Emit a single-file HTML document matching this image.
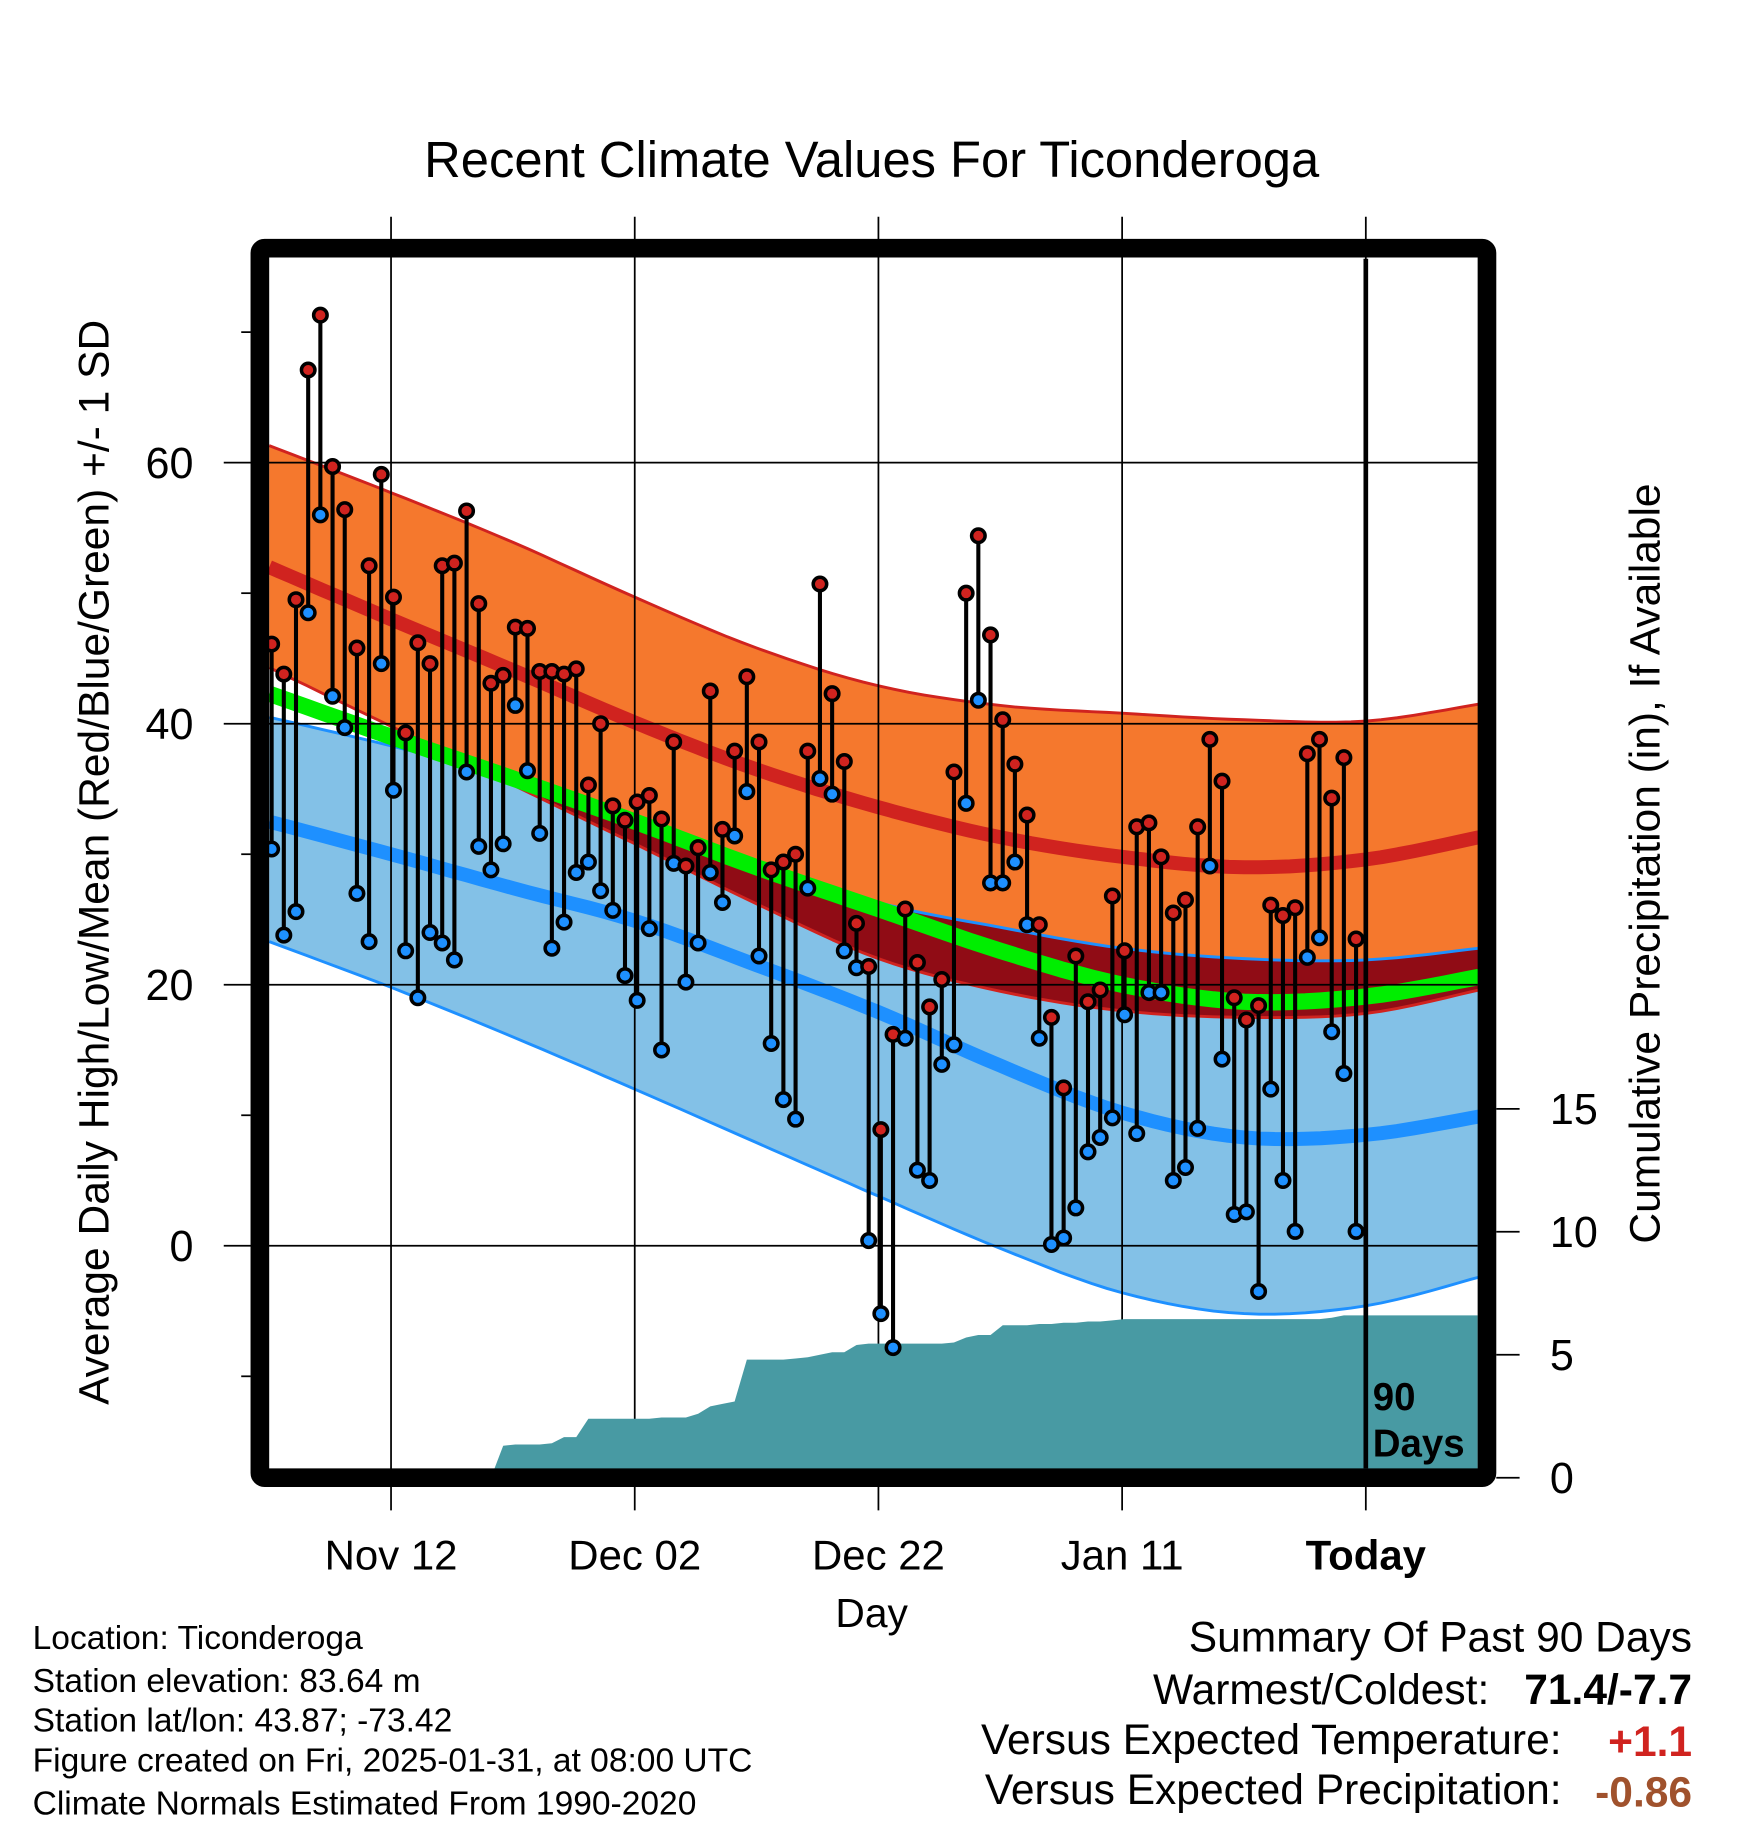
<!DOCTYPE html>
<html><head><meta charset="utf-8"><style>
html,body{margin:0;padding:0;background:#fff}
svg{display:block;font-family:"Liberation Sans",sans-serif}
</style></head><body>
<svg id="chart" width="1748" height="1828" viewBox="0 0 1500 1568.6" preserveAspectRatio="none" xmlns="http://www.w3.org/2000/svg">
<rect width="1500" height="1568.6" fill="#fff"/>
<text x="748" y="152" font-size="43.5" text-anchor="middle">Recent Climate Values For Ticonderoga</text>
<g id="bands"></g>
<g id="grid"></g>
<g id="precip"></g>
<g id="marks"></g>
<rect x="223" y="213" width="1053" height="1055" fill="none" stroke="#000" stroke-width="16" rx="4"/>
<g id="axes"></g>
<text font-size="33" font-weight="bold" x="1178" y="1210">90</text>
<text font-size="33" font-weight="bold" x="1178" y="1250">Days</text>
<text font-size="36.5" text-anchor="middle" transform="translate(93,740) rotate(-90)">Average Daily High/Low/Mean (Red/Blue/Green) +/- 1 SD</text>
<text font-size="36.5" text-anchor="middle" transform="translate(1424,741) rotate(-90)">Cumulative Precipitation (in), If Available</text>
<text font-size="35" text-anchor="middle" x="748" y="1396">Day</text>
<g font-size="28.8">
<text x="28" y="1415">Location: Ticonderoga</text>
<text x="28" y="1452">Station elevation: 83.64 m</text>
<text x="28" y="1486">Station lat/lon: 43.87; -73.42</text>
<text x="28" y="1520">Figure created on Fri, 2025-01-31, at 08:00 UTC</text>
<text x="28" y="1557">Climate Normals Estimated From 1990-2020</text>
</g>
<g font-size="36.5">
<text x="1452" y="1417" text-anchor="end">Summary Of Past 90 Days</text>
<text x="1278" y="1462" text-anchor="end">Warmest/Coldest:</text>
<text x="1452" y="1462" text-anchor="end" font-weight="bold">71.4/-7.7</text>
<text x="1340" y="1505" text-anchor="end">Versus Expected Temperature:</text>
<text x="1452" y="1507" text-anchor="end" font-weight="bold" fill="#d0231f">+1.1</text>
<text x="1340" y="1548" text-anchor="end">Versus Expected Precipitation:</text>
<text x="1452" y="1550" text-anchor="end" font-weight="bold" fill="#a0522d">-0.86</text>
</g>
</svg>
<script>
const normDays=[0,10,20,30,40,50,60,70,80,90,99.3];
const highUp=[61.3,57.7,53.9,49.7,45.8,42.9,41.4,40.8,40.3,40.2,41.5];
const highMean=[52.0,48.0,44.1,40.1,36.5,33.6,31.3,29.8,29.0,29.6,31.3];
const highLow=[44.3,39.8,35.3,30.8,26.2,22.0,19.5,18.0,17.5,17.8,19.6];
const lowUp=[40.5,38.3,35.8,32.8,29.5,26.3,24.4,22.8,22.0,21.9,22.8];
const lowMean=[32.5,30.0,27.4,24.9,21.5,17.9,13.8,10.2,8.3,8.5,9.9];
const lowLow=[23.3,19.8,16.0,12.0,7.9,3.8,-0.2,-3.6,-5.2,-4.6,-2.4];
const avgMean=[42.3,39.0,35.8,32.5,29.0,25.8,22.6,20.0,18.7,19.1,20.6];
const highs=[46.1,43.8,49.5,67.1,71.3,59.7,56.4,45.8,52.1,59.1,49.7,39.3,46.2,44.6,52.1,52.3,56.3,49.2,43.1,43.7,47.4,47.3,44.0,44.0,43.8,44.2,35.3,40.0,33.7,32.6,34.0,34.5,32.7,38.6,29.1,30.5,42.5,31.9,37.9,43.6,38.6,28.8,29.4,30.0,37.9,50.7,42.3,37.1,24.7,21.4,8.9,16.2,25.8,21.7,18.3,20.4,36.3,50.0,54.4,46.8,40.3,36.9,33.0,24.6,17.5,12.1,22.2,18.7,19.6,26.8,22.6,32.1,32.4,29.8,25.5,26.5,32.1,38.8,35.6,19.0,17.3,18.4,26.1,25.3,25.9,37.7,38.8,34.3,37.4,23.5];
const lows=[30.4,23.8,25.6,48.5,56.0,42.1,39.7,27.0,23.3,44.6,34.9,22.6,19.0,24.0,23.2,21.9,36.3,30.6,28.8,30.8,41.4,36.4,31.6,22.8,24.8,28.6,29.4,27.2,25.7,20.7,18.8,24.3,15.0,29.3,20.2,23.2,28.6,26.3,31.4,34.8,22.2,15.5,11.2,9.7,27.4,35.8,34.6,22.6,21.3,0.4,-5.2,-7.8,15.9,5.8,5.0,13.9,15.4,33.9,41.8,27.8,27.8,29.4,24.6,15.9,0.1,0.6,2.9,7.2,8.3,9.8,17.7,8.6,19.4,19.4,5.0,6.0,9.0,29.1,14.3,2.4,2.6,-3.5,12.0,5.0,1.1,22.1,23.6,16.4,13.2,1.1];
const precip=[0,0,0,0,0,0,0,0,0,0,0,0,0,0,0,0,0,0,0,1.3,1.35,1.35,1.35,1.4,1.65,1.65,2.4,2.4,2.4,2.4,2.4,2.4,2.45,2.45,2.45,2.6,2.9,3.0,3.1,4.8,4.8,4.8,4.8,4.85,4.9,5.0,5.1,5.1,5.4,5.45,5.45,5.45,5.45,5.45,5.45,5.45,5.5,5.7,5.8,5.8,6.2,6.2,6.2,6.25,6.25,6.3,6.3,6.35,6.35,6.4,6.45,6.45,6.45,6.45,6.45,6.45,6.45,6.45,6.45,6.45,6.45,6.45,6.45,6.45,6.45,6.45,6.45,6.5,6.6,6.6];
const dateTicks=[10,30,50,70,90];
const dateLabels=["Nov 12","Dec 02","Dec 22","Jan 11","Today"];
const yMajor=[0,20,40,60];
const yMinor=[-10,10,30,50,70];
const y2Ticks=[0,5,10,15];

const NS="http://www.w3.org/2000/svg";
const L=231,R=1268,T=222,B=1260;
function xs(d){return 231+10.456*d;}
function ys(t){return 1069-11.2*t;}
function yp(v){return 1268-21.1*v;}
function mk(tag,parent,attrs){const e=document.createElementNS(NS,tag);for(const k in attrs)e.setAttribute(k,attrs[k]);parent.appendChild(e);return e;}
// Catmull-Rom smoothing through the sampled normals
function smoothPts(arr){
  const out=[];const n=normDays.length;
  for(let i=0;i<n-1;i++){
    const p0=[normDays[Math.max(0,i-1)],arr[Math.max(0,i-1)]];
    const p1=[normDays[i],arr[i]],p2=[normDays[i+1],arr[i+1]];
    const p3=[normDays[Math.min(n-1,i+2)],arr[Math.min(n-1,i+2)]];
    for(let s=0;s<8;s++){
      const t=s/8,t2=t*t,t3=t2*t;
      const f=(a,b,c,d)=>0.5*(2*b+(-a+c)*t+(2*a-5*b+4*c-d)*t2+(-a+3*b-3*c+d)*t3);
      out.push([f(p0[0],p1[0],p2[0],p3[0]),f(p0[1],p1[1],p2[1],p3[1])]);
    }
  }
  out.push([normDays[n-1],arr[n-1]]);
  return out;
}
function pstr(p){return p.map(q=>xs(q[0]).toFixed(1)+','+ys(q[1]).toFixed(1));}
function band(up,lo){return pstr(smoothPts(up)).concat(pstr(smoothPts(lo)).reverse()).join(' ');}

const bands=document.getElementById('bands');
let e=mk('polygon',bands,{points:band(highUp,highLow),fill:'#f5782d'});


e=mk('polygon',bands,{points:band(lowUp,lowLow),fill:'#83c1e7'});


const ovUp=normDays.map((d,i)=>Math.min(lowUp[i],highUp[i]));
const ovLo=normDays.map((d,i)=>Math.min(highLow[i],lowUp[i]));
e=mk('polygon',bands,{points:band(ovUp,ovLo),fill:'#900c15'});


const lines=[[highUp,'#d0231f',2.5,'high-plus-sd-line'],[highLow,'#d0231f',2.5,'high-minus-sd-line'],[lowUp,'#1e90ff',2.5,'low-plus-sd-line'],[lowLow,'#1e90ff',2.5,'low-minus-sd-line'],[highMean,'#d0231f',12,'mean-high-line'],[lowMean,'#1e90ff',12,'mean-low-line'],[avgMean,'#00ee00',14,'mean-temp-line']];
lines.forEach(l=>{
  const p=mk('polyline',bands,{points:pstr(smoothPts(l[0])).join(' '),fill:'none',stroke:l[1],'stroke-width':l[2],'stroke-linejoin':'round'});
  
  
});

const grid=document.getElementById('grid');
yMajor.forEach(t=>{
  const g=mk('line',grid,{x1:192,x2:R,y1:ys(t),y2:ys(t),stroke:'#000','stroke-width':1.5});
  
  
});
dateTicks.forEach(d=>{
  const g=mk('line',grid,{x1:xs(d),x2:xs(d),y1:186,y2:1296,stroke:'#000','stroke-width':1.5});
  
  
});

const pg=document.getElementById('precip');
const pp=[L+','+yp(0)];
precip.forEach((v,i)=>pp.push(xs(i+0.2).toFixed(1)+','+yp(v).toFixed(1)));
pp.push(R+','+yp(precip[precip.length-1]));
pp.push(R+','+(B+8));pp.push(L+','+(B+8));
e=mk('polygon',pg,{points:pp.join(' '),fill:'#489aa3'});


e=mk('line',pg,{x1:xs(90),x2:xs(90),y1:T,y2:B,stroke:'#000','stroke-width':4});



const marks=document.getElementById('marks');
highs.forEach((h,i)=>{
  const x=xs(i+0.2);
  const s=mk('line',marks,{x1:x,x2:x,y1:ys(h),y2:ys(lows[i]),stroke:'#000','stroke-width':3.5});
  
  
  const c1=mk('circle',marks,{cx:x,cy:ys(h),r:5.8,fill:'#d0231f',stroke:'#000','stroke-width':3});
  
  
  const c2=mk('circle',marks,{cx:x,cy:ys(lows[i]),r:5.8,fill:'#1e90ff',stroke:'#000','stroke-width':3});
  
  
});

const axes=document.getElementById('axes');
yMajor.forEach(t=>{
  const tx=mk('text',axes,{x:166,y:ys(t)+13,'font-size':37,'text-anchor':'end'});
  tx.textContent=String(t);
  
  
});
yMinor.forEach(t=>{
  const m=mk('line',axes,{x1:207,x2:215,y1:ys(t),y2:ys(t),stroke:'#000','stroke-width':1.5});
  
  
});
y2Ticks.forEach(v=>{
  const m=mk('line',axes,{x1:1284,x2:1304,y1:yp(v),y2:yp(v),stroke:'#000','stroke-width':1.5});
  
  
  const tx=mk('text',axes,{x:1330,y:yp(v)+13,'font-size':37});
  tx.textContent=String(v);
  
  
});
dateTicks.forEach((d,i)=>{
  const tx=mk('text',axes,{x:xs(d),y:1347,'font-size':36,'text-anchor':'middle'});
  if(dateLabels[i]==='Today')tx.setAttribute('font-weight','bold');
  tx.textContent=dateLabels[i];
  
  
});
</script>
</body></html>
